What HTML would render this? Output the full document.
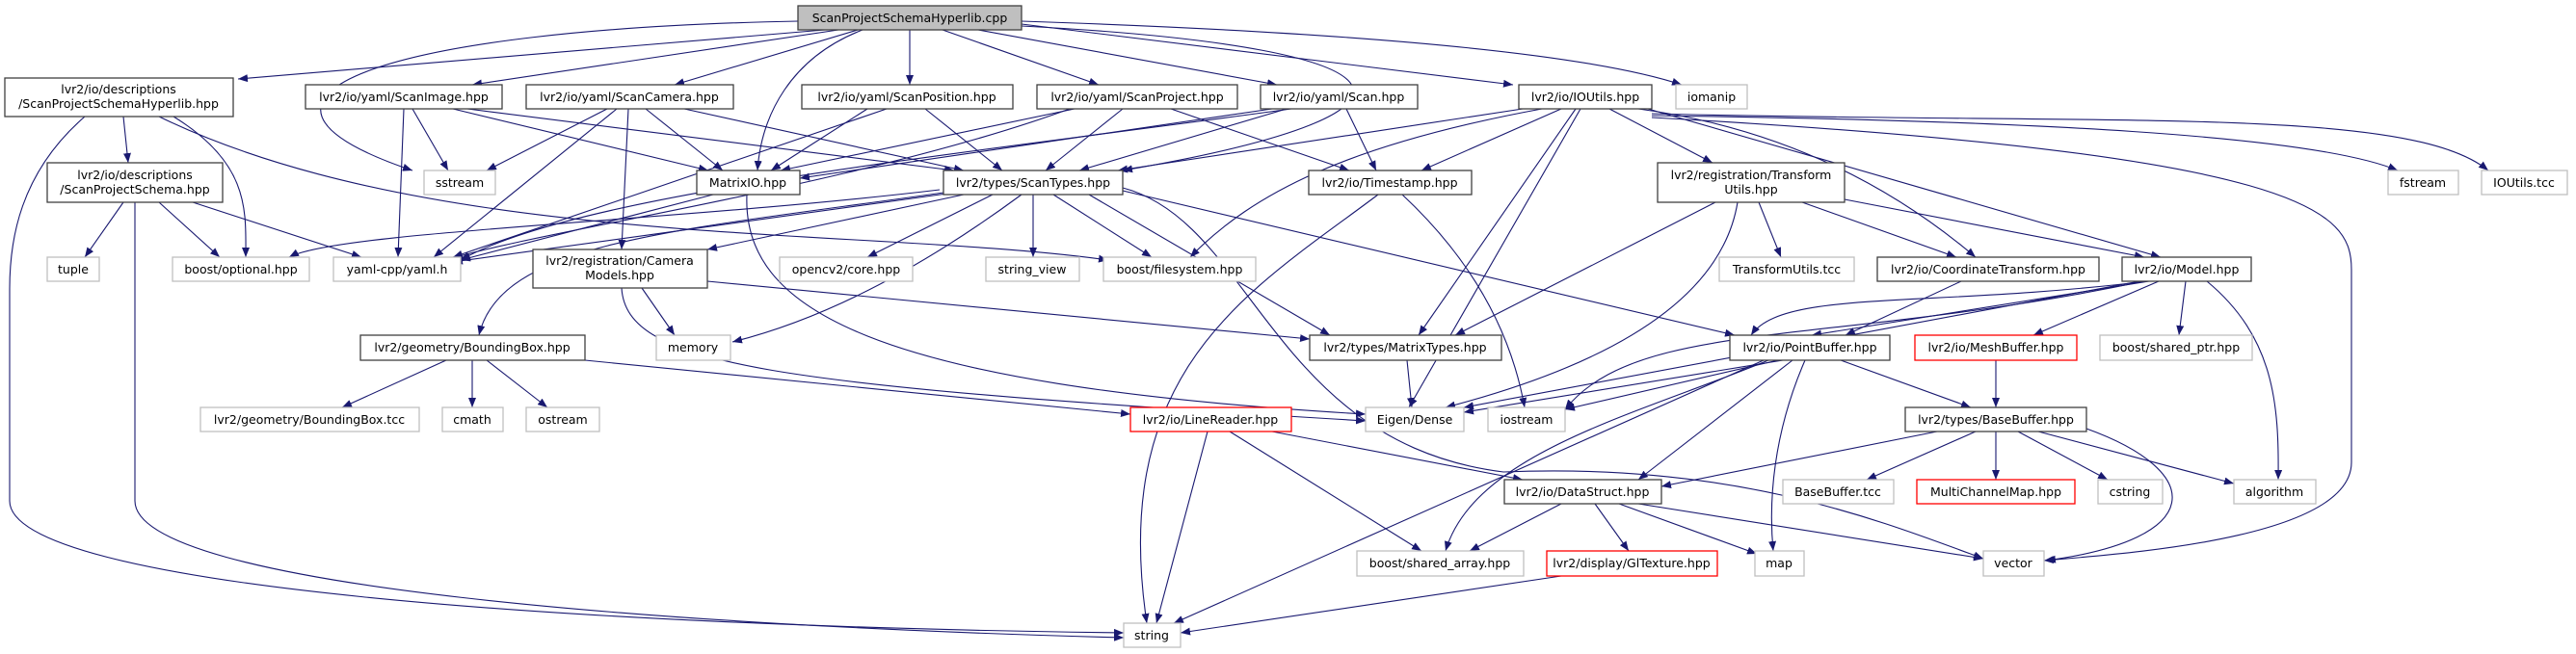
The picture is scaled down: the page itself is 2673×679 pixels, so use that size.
<!DOCTYPE html>
<html><head><meta charset="utf-8"><style>
html,body{margin:0;padding:0;background:#fff;width:2673px;height:679px;overflow:hidden}
svg text{font-family:"DejaVu Sans","Liberation Sans",sans-serif;font-size:12.5px;fill:#000}
</style></head><body>
<svg width="2673" height="679" viewBox="0 0 2673 679" xmlns="http://www.w3.org/2000/svg">
<defs><marker id="a" viewBox="0 0 10 8" refX="10" refY="4" markerWidth="10" markerHeight="8" markerUnits="userSpaceOnUse" orient="auto"><path d="M0,0 L10,4 L0,8 z" fill="#191970"/></marker></defs>
<g fill="none" stroke="#191970" stroke-width="1.1" marker-end="url(#a)">
<path d="M856,31 L247,82"/>
<path d="M870,31 L490,88"/>
<path d="M890,31 L700,88"/>
<path d="M944,31 L944,88"/>
<path d="M978,31 L1140,88"/>
<path d="M1015,31 L1325,88"/>
<path d="M1060,25 L1570,88"/>
<path d="M1060,22 Q1600,40 1745,88"/>
<path d="M828,22 C400,30 200,100 428,177"/>
<path d="M895,31 C820,60 790,120 786,177"/>
<path d="M1060,27 C1500,50 1500,120 1165,177"/>
<path d="M128,121 L133,169"/>
<path d="M180,121 C260,170 255,220 255,267"/>
<path d="M88,121 C20,180 10,250 10,300 L10,520 C10,610 600,650 1166,657"/>
<path d="M165,121 C450,260 900,235 1150,270"/>
<path d="M128,210 L88,267"/>
<path d="M165,210 L228,267"/>
<path d="M200,210 L375,267"/>
<path d="M140,210 L140,520 C140,610 700,650 1166,662"/>
<path d="M428,113 L465,177"/>
<path d="M419,113 L413,267"/>
<path d="M470,113 L735,177"/>
<path d="M485,113 L990,177"/>
<path d="M630,113 L505,177"/>
<path d="M640,113 L450,267"/>
<path d="M670,113 L750,177"/>
<path d="M652,113 L645,259"/>
<path d="M710,113 L1000,177"/>
<path d="M900,113 L800,177"/>
<path d="M920,113 L470,267"/>
<path d="M960,113 L1040,177"/>
<path d="M1115,113 L810,177"/>
<path d="M1165,113 L1085,177"/>
<path d="M1110,113 C900,190 560,240 470,268"/>
<path d="M1215,113 L1400,177"/>
<path d="M1320,113 L830,185"/>
<path d="M1335,113 L1120,177"/>
<path d="M1340,113 C1000,160 600,200 478,270"/>
<path d="M1397,113 L1428,177"/>
<path d="M1580,113 L1160,177"/>
<path d="M1620,113 L1475,177"/>
<path d="M1600,113 C1400,150 1300,200 1235,267"/>
<path d="M1670,113 L1777,169"/>
<path d="M1700,113 Q1900,140 2050,267"/>
<path d="M1710,113 L2242,267"/>
<path d="M1635,113 L1472,348"/>
<path d="M1640,113 L1462,423"/>
<path d="M1714,120 C2100,125 2400,140 2488,177"/>
<path d="M1714,118 C2200,130 2500,110 2582,177"/>
<path d="M1714,122 C2400,160 2440,220 2440,280 L2440,480 C2440,560 2200,575 2121,582"/>
<path d="M740,202 L478,270"/>
<path d="M775,202 C770,320 900,400 1417,430"/>
<path d="M975,197 C700,230 350,240 300,267"/>
<path d="M990,200 L470,272"/>
<path d="M1030,202 L900,267"/>
<path d="M1072,202 L1072,267"/>
<path d="M1093,202 L1195,267"/>
<path d="M1060,202 Q900,320 760,355"/>
<path d="M1000,202 L734,259"/>
<path d="M1130,202 L1380,348"/>
<path d="M1165,198 L1800,348"/>
<path d="M1165,195 C1300,230 1320,460 1560,490 C1800,480 1950,540 2058,580"/>
<path d="M979,200 C700,240 520,250 497,348"/>
<path d="M1430,202 C1300,300 1150,380 1190,647"/>
<path d="M1455,202 Q1560,300 1582,423"/>
<path d="M1825,210 L1848,267"/>
<path d="M1870,210 L2030,267"/>
<path d="M1914,207 L2225,267"/>
<path d="M1780,210 L1510,348"/>
<path d="M1803,210 Q1780,350 1500,423"/>
<path d="M666,299 L700,348"/>
<path d="M734,292 L1359,352"/>
<path d="M645,299 C650,380 800,400 1417,437"/>
<path d="M2035,292 L1915,348"/>
<path d="M2230,292 L1880,348"/>
<path d="M2228,292 C2000,320 1850,300 1817,348"/>
<path d="M2240,292 L2110,348"/>
<path d="M2268,292 L2261,348"/>
<path d="M2290,292 C2360,350 2365,420 2364,498"/>
<path d="M2225,292 C1900,360 1700,330 1624,425"/>
<path d="M2220,292 L1519,423"/>
<path d="M463,374 L355,423"/>
<path d="M490,374 L490,423"/>
<path d="M505,374 L568,423"/>
<path d="M607,374 L1173,430"/>
<path d="M1460,374 L1465,423"/>
<path d="M1910,374 L2045,423"/>
<path d="M1873,374 C1840,450 1835,520 1840,572"/>
<path d="M1860,374 L1700,498"/>
<path d="M1830,374 L1218,647"/>
<path d="M1845,374 L1624,425"/>
<path d="M1850,374 L1519,428"/>
<path d="M1835,374 C1700,430 1530,470 1500,572"/>
<path d="M2071,374 L2071,423"/>
<path d="M1253,448 L1200,647"/>
<path d="M1276,448 L1475,572"/>
<path d="M1320,448 L1580,498"/>
<path d="M2050,448 L1937,498"/>
<path d="M2071,448 L2071,498"/>
<path d="M2094,448 L2187,498"/>
<path d="M2115,448 L2318,502"/>
<path d="M2165,445 C2290,490 2290,560 2123,582"/>
<path d="M2010,448 L1724,505"/>
<path d="M1620,523 L1525,572"/>
<path d="M1655,523 L1690,572"/>
<path d="M1680,523 L1823,575"/>
<path d="M1700,523 L2058,580"/>
<path d="M1620,598 L1225,657"/>
</g>
<g stroke-width="1.3">
<rect x="828" y="6" width="232" height="25" fill="#bfbfbf" stroke="#404040"/>
<g fill="#fff" stroke="#404040">
<rect x="5" y="81" width="237" height="40"/>
<rect x="317" y="88" width="204" height="25"/>
<rect x="546" y="88" width="215" height="25"/>
<rect x="832" y="88" width="219" height="25"/>
<rect x="1076" y="88" width="208" height="25"/>
<rect x="1308" y="88" width="163" height="25"/>
<rect x="1576" y="88" width="138" height="25"/>
<rect x="49" y="169" width="182" height="41"/>
<rect x="723" y="177" width="107" height="25"/>
<rect x="979" y="177" width="186" height="25"/>
<rect x="1358" y="177" width="169" height="25"/>
<rect x="1720" y="169" width="194" height="41"/>
<rect x="553" y="259" width="181" height="40"/>
<rect x="1948" y="267" width="230" height="25"/>
<rect x="2202" y="267" width="134" height="25"/>
<rect x="374" y="348" width="233" height="26"/>
<rect x="1359" y="348" width="199" height="26"/>
<rect x="1795" y="348" width="166" height="26"/>
<rect x="1977" y="423" width="188" height="25"/>
<rect x="1561" y="498" width="163" height="25"/>
</g>
<g fill="#fff" stroke="#ff0000">
<rect x="1987" y="348" width="168" height="26"/>
<rect x="1173" y="423" width="167" height="25"/>
<rect x="1989" y="498" width="164" height="25"/>
<rect x="1605" y="572" width="177" height="26"/>
</g>
<g fill="#fff" stroke="#bfbfbf">
<rect x="1739" y="88" width="74" height="25"/>
<rect x="440" y="177" width="74" height="25"/>
<rect x="2478" y="177" width="73" height="25"/>
<rect x="2575" y="177" width="89" height="25"/>
<rect x="49" y="267" width="54" height="25"/>
<rect x="179" y="267" width="142" height="25"/>
<rect x="346" y="267" width="132" height="25"/>
<rect x="809" y="267" width="138" height="25"/>
<rect x="1023" y="267" width="97" height="25"/>
<rect x="1145" y="267" width="158" height="25"/>
<rect x="1784" y="267" width="140" height="25"/>
<rect x="681" y="348" width="77" height="26"/>
<rect x="2179" y="348" width="158" height="26"/>
<rect x="208" y="423" width="227" height="25"/>
<rect x="459" y="423" width="63" height="25"/>
<rect x="546" y="423" width="76" height="25"/>
<rect x="1417" y="423" width="102" height="25"/>
<rect x="1544" y="423" width="80" height="25"/>
<rect x="1850" y="498" width="115" height="25"/>
<rect x="2177" y="498" width="67" height="25"/>
<rect x="2318" y="498" width="85" height="25"/>
<rect x="1408" y="572" width="173" height="26"/>
<rect x="1821" y="572" width="51" height="26"/>
<rect x="2058" y="572" width="63" height="26"/>
<rect x="1166" y="647" width="59" height="25"/>
</g>
</g>
<g text-anchor="middle">
<text x="944" y="23">ScanProjectSchemaHyperlib.cpp</text>
<text x="123" y="97">lvr2/io/descriptions</text>
<text x="123" y="112">/ScanProjectSchemaHyperlib.hpp</text>
<text x="419" y="105">lvr2/io/yaml/ScanImage.hpp</text>
<text x="653" y="105">lvr2/io/yaml/ScanCamera.hpp</text>
<text x="941" y="105">lvr2/io/yaml/ScanPosition.hpp</text>
<text x="1180" y="105">lvr2/io/yaml/ScanProject.hpp</text>
<text x="1389" y="105">lvr2/io/yaml/Scan.hpp</text>
<text x="1645" y="105">lvr2/io/IOUtils.hpp</text>
<text x="1776" y="105">iomanip</text>
<text x="140" y="186">lvr2/io/descriptions</text>
<text x="140" y="201">/ScanProjectSchema.hpp</text>
<text x="477" y="194">sstream</text>
<text x="776" y="194">MatrixIO.hpp</text>
<text x="1072" y="194">lvr2/types/ScanTypes.hpp</text>
<text x="1442" y="194">lvr2/io/Timestamp.hpp</text>
<text x="1817" y="186">lvr2/registration/Transform</text>
<text x="1817" y="201">Utils.hpp</text>
<text x="2514" y="194">fstream</text>
<text x="2619" y="194">IOUtils.tcc</text>
<text x="76" y="284">tuple</text>
<text x="250" y="284">boost/optional.hpp</text>
<text x="412" y="284">yaml-cpp/yaml.h</text>
<text x="643" y="275">lvr2/registration/Camera</text>
<text x="643" y="290">Models.hpp</text>
<text x="878" y="284">opencv2/core.hpp</text>
<text x="1071" y="284">string_view</text>
<text x="1224" y="284">boost/filesystem.hpp</text>
<text x="1854" y="284">TransformUtils.tcc</text>
<text x="2063" y="284">lvr2/io/CoordinateTransform.hpp</text>
<text x="2269" y="284">lvr2/io/Model.hpp</text>
<text x="490" y="365">lvr2/geometry/BoundingBox.hpp</text>
<text x="719" y="365">memory</text>
<text x="1458" y="365">lvr2/types/MatrixTypes.hpp</text>
<text x="1878" y="365">lvr2/io/PointBuffer.hpp</text>
<text x="2071" y="365">lvr2/io/MeshBuffer.hpp</text>
<text x="2258" y="365">boost/shared_ptr.hpp</text>
<text x="321" y="440">lvr2/geometry/BoundingBox.tcc</text>
<text x="490" y="440">cmath</text>
<text x="584" y="440">ostream</text>
<text x="1256" y="440">lvr2/io/LineReader.hpp</text>
<text x="1468" y="440">Eigen/Dense</text>
<text x="1584" y="440">iostream</text>
<text x="2071" y="440">lvr2/types/BaseBuffer.hpp</text>
<text x="1642" y="515">lvr2/io/DataStruct.hpp</text>
<text x="1907" y="515">BaseBuffer.tcc</text>
<text x="2071" y="515">MultiChannelMap.hpp</text>
<text x="2210" y="515">cstring</text>
<text x="2360" y="515">algorithm</text>
<text x="1494" y="589">boost/shared_array.hpp</text>
<text x="1693" y="589">lvr2/display/GlTexture.hpp</text>
<text x="1846" y="589">map</text>
<text x="2089" y="589">vector</text>
<text x="1195" y="664">string</text>
</g>
</svg>
</body></html>
